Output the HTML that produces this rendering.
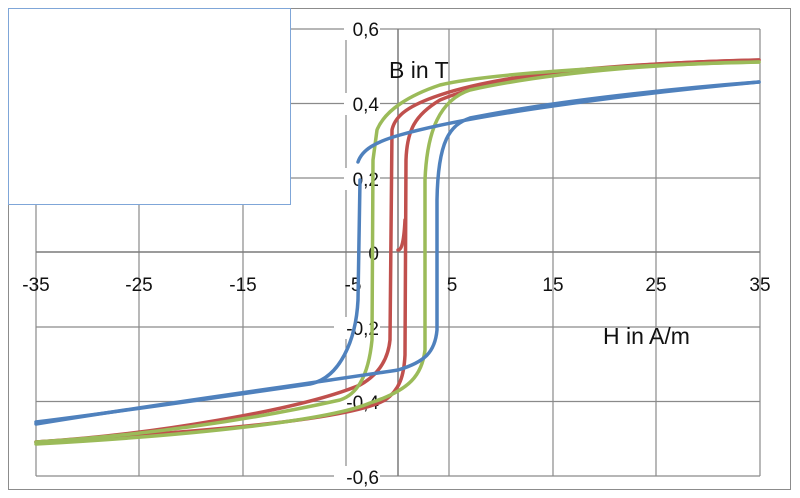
<!DOCTYPE html>
<html><head><meta charset="utf-8"><style>
body{margin:0;background:#fff;}
svg{display:block;font-family:"Liberation Sans",sans-serif;}
</style></head><body>
<svg width="800" height="498" viewBox="0 0 800 498">
<rect x="0" y="0" width="800" height="498" fill="#fff"/>
<rect x="8.5" y="8.5" width="782" height="481" fill="none" stroke="#8c8c8c" stroke-width="1"/>
<g stroke="#8a8a8a" stroke-width="1.2" fill="none">
<line x1="36" y1="29" x2="760" y2="29"/>
<line x1="36" y1="103.5" x2="760" y2="103.5"/>
<line x1="36" y1="178" x2="760" y2="178"/>
<line x1="36" y1="327" x2="760" y2="327"/>
<line x1="36" y1="401.5" x2="760" y2="401.5"/>
<line x1="36" y1="476" x2="760" y2="476"/>
<line x1="36" y1="29" x2="36" y2="476"/>
<line x1="139" y1="29" x2="139" y2="476"/>
<line x1="243" y1="29" x2="243" y2="476"/>
<line x1="346" y1="29" x2="346" y2="476"/>
<line x1="449" y1="29" x2="449" y2="476"/>
<line x1="553" y1="29" x2="553" y2="476"/>
<line x1="656" y1="29" x2="656" y2="476"/>
<line x1="760" y1="29" x2="760" y2="476"/>
</g>
<g stroke="#7a7a7a" stroke-width="1.5">
<line x1="36" y1="252" x2="760" y2="252"/>
<line x1="398" y1="29" x2="398" y2="476"/>
</g>
<g font-size="19" fill="#111">
<g text-anchor="end">
<rect x="344" y="18" width="36" height="22" fill="#fff"/><text x="379" y="36">0,6</text>
<rect x="344" y="93" width="36" height="22" fill="#fff"/><text x="379" y="111">0,4</text>
<rect x="344" y="168" width="36" height="22" fill="#fff"/><text x="379" y="186">0,2</text>
<text x="379" y="260">0</text>
<rect x="334" y="317" width="46" height="22" fill="#fff"/><text x="379" y="335">-0,2</text>
<rect x="334" y="391" width="46" height="22" fill="#fff"/><text x="379" y="409">-0,4</text>
<rect x="334" y="466" width="46" height="22" fill="#fff"/><text x="379" y="484">-0,6</text>
</g>
<g text-anchor="middle">
<text x="36" y="291">-35</text>
<text x="139" y="291">-25</text>
<text x="243" y="291">-15</text>
<text x="353" y="291">-5</text>
<text x="452" y="291">5</text>
<text x="553" y="291">15</text>
<text x="656" y="291">25</text>
<text x="760" y="291">35</text>
</g>
</g>
<text x="389" y="78" font-size="23" fill="#111">B in T</text>
<text x="603" y="344" font-size="23" fill="#111">H in A/m</text>
<g fill="none" stroke-width="3.5" stroke-linecap="round">
<!-- red -->
<path stroke="#c0504d" d="M759,60 C600,64 500,75 440,95 C410,105 395,115 392,130 L390,340 C388,360 378,375 360,385 C300,410 150,435 36,442"/>
<path stroke="#c0504d" d="M36,442 C200,432 350,420 385,400 C400,390 404,375 405,355 L406,160 C407,130 415,115 440,100 C500,75 620,63 759,60"/>
<path stroke="#c0504d" d="M398,250 C402,250 404,240 405,220"/>
<!-- green -->
<path stroke="#9bbb59" d="M759,62 C600,66 480,75 440,85 C410,95 385,110 377,130 L373,160 L372,340 C368,380 355,395 340,400 C250,420 150,435 36,442"/>
<path stroke="#9bbb59" d="M36,444 C200,435 330,420 370,403 C410,390 422,375 425,350 L425,180 C427,130 440,100 470,90 C560,70 680,63 759,62"/>
<!-- blue -->
<path stroke="#4f81bd" d="M759,82 C620,95 470,115 400,135 C375,142 362,150 358,162"/>
<path stroke="#4f81bd" d="M360,180 L358,300 C356,340 340,378 310,384 C200,400 100,414 36,422"/>
<path stroke="#4f81bd" d="M36,424 C150,405 300,385 398,370 C425,362 435,352 437,330 L437,200 C438,140 450,125 470,118 C560,100 680,88 759,82"/>
</g>
<rect x="8.5" y="8.5" width="282" height="196" fill="#fff" stroke="#7fa6d8" stroke-width="1"/>
</svg>
</body></html>
